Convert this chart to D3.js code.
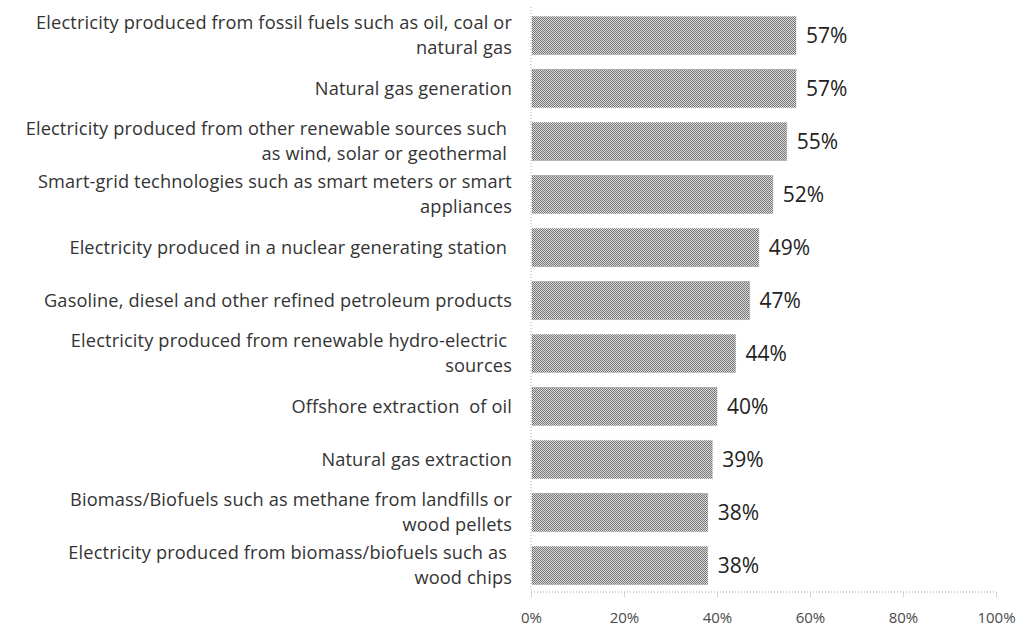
<!DOCTYPE html>
<html><head><meta charset="utf-8">
<script src="https://cdn.jsdelivr.net/npm/d3@7"></script>
<style>
html,body{margin:0;padding:0;background:#fff;}
svg{display:block;}
text{white-space:pre;}
</style></head>
<body>
<svg id="chart" width="1031" height="627"></svg>
<script>
const categories = [
  ["Electricity produced from fossil fuels such as oil, coal or", "natural gas"],
  ["Natural gas generation"],
  ["Electricity produced from other renewable sources such ", "as wind, solar or geothermal "],
  ["Smart-grid technologies such as smart meters or smart", "appliances"],
  ["Electricity produced in a nuclear generating station "],
  ["Gasoline, diesel and other refined petroleum products"],
  ["Electricity produced from renewable hydro-electric ", "sources"],
  ["Offshore extraction  of oil"],
  ["Natural gas extraction"],
  ["Biomass/Biofuels such as methane from landfills or", "wood pellets"],
  ["Electricity produced from biomass/biofuels such as ", "wood chips"]
];
const values = [0.57, 0.57, 0.55, 0.52, 0.49, 0.47, 0.44, 0.40, 0.39, 0.38, 0.38];
const tickValues = [0, 0.2, 0.4, 0.6, 0.8, 1.0];

(function(){
const svg = d3.select("#chart");
const mLeft = 531, mRight = 996, mTop = 9, mBottom = 592;
const font = "'Open Sans', 'Noto Sans', sans-serif";

const x = d3.scaleLinear().domain([0, 1]).range([mLeft, mRight]);
const y = d3.scaleBand().domain(d3.range(categories.length)).range([mTop, mBottom]).paddingInner(0.28).paddingOuter(0.14);

const defs = svg.append("defs");
const pat = defs.append("pattern").attr("id", "hatch").attr("patternUnits", "userSpaceOnUse")
  .attr("width", 2).attr("height", 2);
pat.append("rect").attr("width", 2).attr("height", 2).attr("fill", "#dadada");
pat.append("rect").attr("x", 0).attr("y", 0).attr("width", 1).attr("height", 1).attr("fill", "#767676");
pat.append("rect").attr("x", 1).attr("y", 1).attr("width", 1).attr("height", 1).attr("fill", "#767676");

svg.append("line").attr("x1", mLeft).attr("x2", mLeft).attr("y1", mTop - 2).attr("y2", mBottom)
  .attr("stroke", "#b0b0b0").attr("stroke-dasharray", "1,2");
const xAxis = d3.axisBottom(x).tickValues(tickValues).tickFormat(d3.format(".0%")).tickSize(5).tickPadding(15);
const gx = svg.append("g").attr("transform", `translate(0,${mBottom})`).call(xAxis);
gx.select(".domain").attr("stroke", "#a0a0a0").attr("stroke-dasharray", "1,2").attr("d", `M${mLeft},0H${mRight}`);
gx.selectAll(".tick line").attr("stroke", "#b0b0b0").attr("stroke-dasharray", "1,1");
gx.selectAll(".tick text").attr("font-family", font).attr("font-size", 15)
  .attr("fill", "#4a4a4a");

svg.append("g").selectAll("rect").data(values).join("rect")
  .attr("x", x(0) + 1)
  .attr("y", (d, i) => y(i))
  .attr("width", d => x(d) - x(0) - 1)
  .attr("height", y.bandwidth())
  .attr("fill", "url(#hatch)")
  .attr("stroke", "#888").attr("stroke-width", 0.6).attr("stroke-dasharray", "1,1");

svg.append("g").selectAll("text").data(values).join("text")
  .attr("x", d => x(d) + 10)
  .attr("y", (d, i) => y(i) + y.bandwidth() / 2)
  .attr("dy", "0.35em")
  .attr("font-family", font).attr("font-size", 21)
  .attr("fill", "#222")
  .text(d => d3.format(".0%")(d));

const lineH = 25, fs = 18.2;
const lab = svg.append("g").selectAll("text").data(categories).join("text")
  .attr("x", 512)
  .attr("y", (d, i) => y(i) + y.bandwidth() / 2)
  .attr("text-anchor", "end")
  .attr("font-family", font).attr("font-size", fs)
  .attr("letter-spacing", 0.15)
  .attr("fill", "#333");
lab.each(function(lines) {
  const t = d3.select(this);
  const n = lines.length;
  lines.forEach((l, k) => {
    t.append("tspan").attr("x", 512)
      .attr("dy", k === 0 ? ((-(n - 1) / 2) * lineH / fs + 0.35) + "em" : (lineH / fs) + "em")
      .text(l);
  });
});
})();
</script>
</body></html>
